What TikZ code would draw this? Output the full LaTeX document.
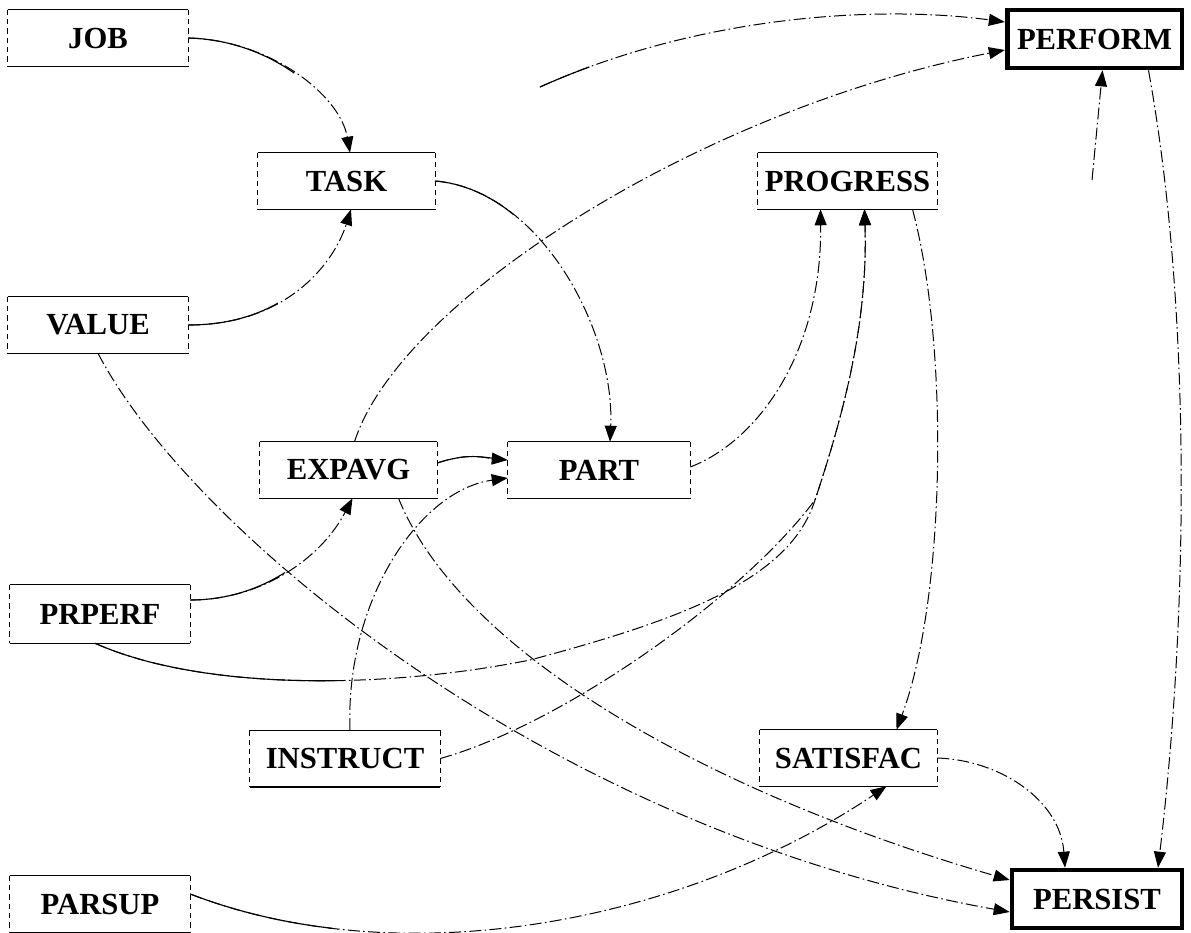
\documentclass[tikz,border=0pt]{standalone}
\usepackage{fontspec}
\setmainfont{Liberation Serif}
\usetikzlibrary{arrows.meta,calc}
\begin{document}
\begin{tikzpicture}[x=0.75pt,y=-0.75pt,
  var/.style={font=\bfseries\fontsize{23}{27}\selectfont, inner sep=0pt,
              minimum width=135pt, minimum height=42pt},
  key/.style={var, draw, line width=3.5pt, minimum height=43.5pt},
  rule/.style={line width=1.1pt},
  side/.style={line width=0.5pt, dash pattern=on 4pt off 3pt},
  link/.style={line width=0.75pt, dash pattern=on 9pt off 2.5pt on 1.2pt off 2.5pt,
               -{Triangle[length=12pt,width=9pt]}},
  % solid stretch at the start of a path
  lead/.style={preaction={draw, -, line width=0.85pt, dash pattern=on #1 off 5000pt}},
]
\useasboundingbox (0,0) rectangle (1191,932);

% variables
\node[var] (job) at (98,38) {JOB};
\node[var, minimum width=132.75pt] (task) at (346.5,181) {TASK};
\node[var, minimum width=134.25pt] (progress) at (847.5,181) {PROGRESS};
\node[key, minimum width=131pt] (perform) at (1094.5,39) {PERFORM};
\node[var] (value) at (98,325) {VALUE};
\node[var, minimum width=132.75pt] (expavg) at (348.5,470) {EXPAVG};
\node[var, minimum width=136.5pt] (part) at (599,470) {PART};
\node[var, minimum height=43.5pt] (prperf) at (100,614) {PRPERF};
\node[var, minimum width=142.5pt] (instruct) at (345,758.5) {INSTRUCT};
\node[var, minimum width=132.75pt] (satisfac) at (848.5,758) {SATISFAC};
\node[var] (parsup) at (100,904) {PARSUP};
\node[key, minimum width=127.5pt] (persist) at (1097,899) {PERSIST};

% frames of the ordinary variables: solid top and bottom, light dashed sides
\foreach \n in {job,task,progress,value,expavg,part,prperf,instruct,satisfac,parsup} {
  \draw[rule] (\n.north west) -- (\n.north east);
  \draw[rule] (\n.south west) -- (\n.south east);
  \draw[side] (\n.north west) -- (\n.south west);
  \draw[side] (\n.north east) -- (\n.south east);
}

% loose ends of two paths
\coordinate (u0) at (540,87);
\coordinate (u1) at (1092,180);

% paths
\draw[link, lead=85pt] (job.east) .. controls (270,40) and (340,95) .. ($(task.north)+(3.5,0)$);
\draw[link, lead=70pt] (value.east) .. controls (290,325) and (335,260) .. ($(task.south)+(4.5,0)$);
\draw[link, lead=65pt] (task.east) .. controls (540,190) and (615,330) .. ($(part.north)+(11,0)$);
\draw[link, lead=45pt] ($(expavg.east)+(0,-7)$) .. controls (470,452) and (485,458) .. ($(part.west)+(0,-10)$);
\draw[link] ($(instruct.north)+(5,0)$) .. controls (345,600) and (420,490) .. ($(part.west)+(0,8)$);
\draw[link, lead=75pt] ($(prperf.east)+(0,-14)$) .. controls (260,600) and (320,560) .. ($(expavg.south)+(4,0)$);
\draw[link] ($(expavg.north)+(6,0)$) .. controls (400,300) and (700,110) .. ($(perform.west)+(0,11)$);
\draw[link, lead=40pt] (u0) .. controls (700,15) and (880,5) .. ($(perform.west)+(0,-17)$);
\draw[link] ($(perform.south)+(54,0)$) .. controls (1190,300) and (1190,600) .. ($(persist.north)+(61,0)$);
\draw[link] (u1) -- ($(perform.south)+(8,0)$);
\draw[link] ($(part.east)+(0,-3)$) .. controls (760,440) and (822,350) .. ($(progress.south)+(-27,0)$);
\draw[link, lead=185pt] ($(prperf.south)+(-5,0)$) .. controls (200,690) and (380,690) .. (530,660)
            .. controls (680,620) and (790,580) .. (815,500)
            .. controls (845,410) and (868,320) .. ($(progress.south)+(17,0)$);
\draw[link] (instruct.east) .. controls (560,725) and (740,600) .. (815,500)
            .. controls (845,410) and (868,320) .. ($(progress.south)+(17,0)$);
\draw[link] ($(progress.south)+(65,0)$) .. controls (950,350) and (945,600) .. ($(satisfac.north)+(48,0)$);
\draw[link] (satisfac.east) .. controls (1000,760) and (1060,800) .. ($(persist.north)+(-32,0)$);
\draw[link, lead=110pt] ($(parsup.east)+(0,-10)$) .. controls (400,975) and (680,925) .. ($(satisfac.south)+(38,0)$);
\draw[link] (value.south) .. controls (190,530) and (550,830) .. ($(persist.west)+(0,13)$);
\draw[link] ($(expavg.south)+(50,0)$) .. controls (460,650) and (700,790) .. ($(persist.west)+(0,-19)$);
\end{tikzpicture}
\end{document}
